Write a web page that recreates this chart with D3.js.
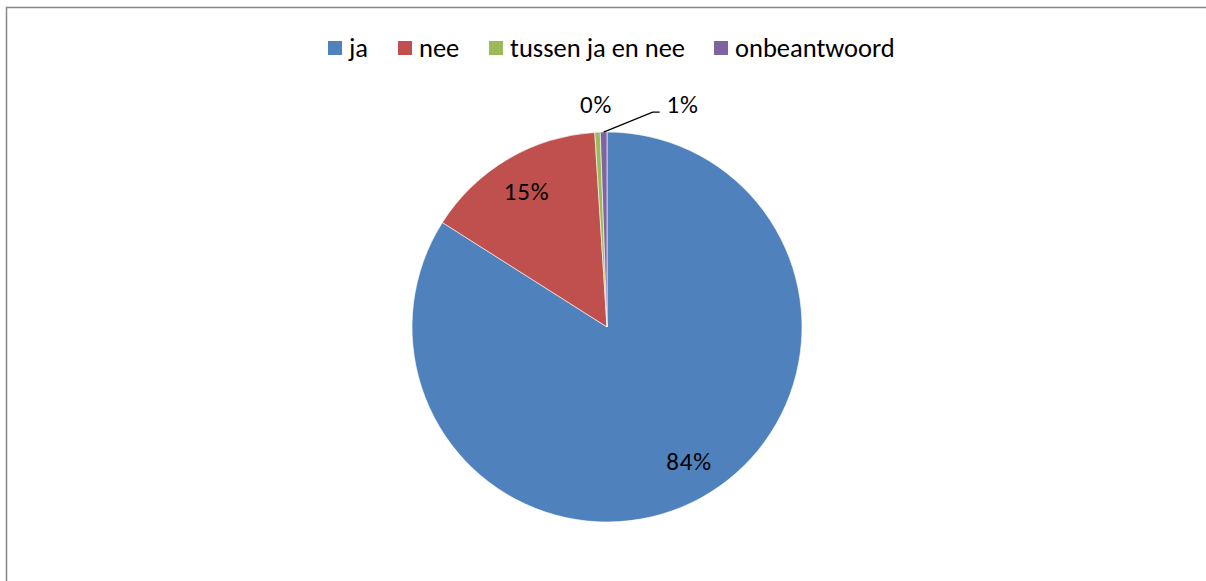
<!DOCTYPE html>
<html>
<head>
<meta charset="utf-8">
<script src="https://cdn.jsdelivr.net/npm/d3@7"></script>
<style>
  body { margin: 0; background: #fff; }
  svg { display: block; }
  text { font-family: Carlito, Lato, "Open Sans", sans-serif; fill: #000; }
</style>
</head>
<body>
<div class="chart"></div>
<script>
// answers from the survey pie
var categories = ["ja", "nee", "tussen ja en nee", "onbeantwoord"];
var values = [84.0, 15.0, 0.45, 0.55];
var labels = ["84%", "15%", "0%", "1%"];
var colors = ["#4F81BD", "#C0504D", "#9BBB59", "#8064A2"];

var width = 1206, height = 581;
var cx = 607, cy = 327, radius = 195;

var svg = d3.select(".chart").append("svg").attr("width", width).attr("height", height);

// chart area border (runs off the right and bottom of the picture)
svg.append("rect")
  .attr("x", 6.5).attr("y", 7.5)
  .attr("width", width + 10).attr("height", height + 10)
  .attr("fill", "none").attr("stroke", "#868686").attr("stroke-width", 1.5);

var pie = d3.pie().sort(null).value(function(d) { return d; });
var arcs = pie(values);

var arc = d3.arc().innerRadius(0).outerRadius(radius);
var labelArc = d3.arc().innerRadius(158).outerRadius(158);
var outerArc = d3.arc().innerRadius(223).outerRadius(223);
var edgeArc = d3.arc().innerRadius(radius).outerRadius(radius);

var g = svg.append("g").attr("transform", "translate(" + cx + "," + cy + ")");

g.selectAll(".slice")
  .data(arcs)
  .enter().append("path")
  .attr("class", "slice")
  .attr("d", arc)
  .attr("fill", function(d, i) { return colors[i]; })
  .attr("stroke", "#fff")
  .attr("stroke-width", 0.6);

// labels: big slices inside, small ones outside
arcs.forEach(function(d, i) {
  var p;
  if (i < 2) {
    p = labelArc.centroid(d);
    if (i == 0) p = [p[0] + 6, p[1] - 4];
  } else if (i == 2) {
    p = outerArc.centroid(d);
  } else {
    // pushed to the right with a leader line
    var s = edgeArc.centroid(d);
    var elbow = [s[0] + 49, s[1] - 20];
    var end = [elbow[0] + 7, elbow[1]];
    g.append("polyline")
      .attr("points", [s, elbow, end].map(function(q) { return q.join(","); }).join(" "))
      .attr("fill", "none").attr("stroke", "#000").attr("stroke-width", 1.3);
    p = [end[0] + 23, elbow[1] - 8];
  }
  g.append("text")
    .attr("x", p[0]).attr("y", p[1])
    .attr("dy", "0.35em")
    .attr("text-anchor", "middle")
    .style("font-size", "25px")
    .style("letter-spacing", "0.8px")
    .text(labels[i]);
});

// legend across the top
var legendX = [328, 398, 489, 714];
var legend = svg.selectAll(".legend")
  .data(categories)
  .enter().append("g")
  .attr("class", "legend")
  .attr("transform", function(d, i) { return "translate(" + legendX[i] + ",41)"; });

legend.append("rect")
  .attr("width", 14).attr("height", 14)
  .attr("fill", function(d, i) { return colors[i]; });

legend.append("text")
  .attr("x", 21).attr("y", 7)
  .attr("dy", "0.35em")
  .style("font-size", "26.5px")
  .text(function(d) { return d; });
</script>
</body>
</html>
